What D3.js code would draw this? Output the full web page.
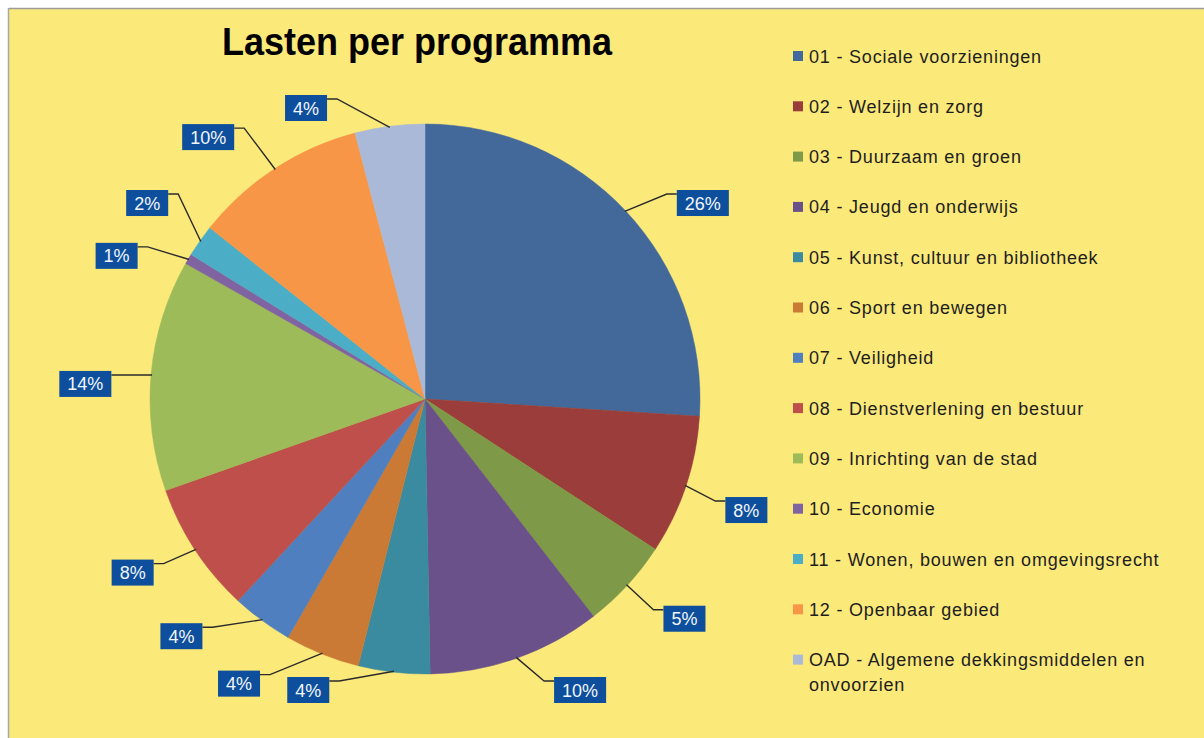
<!DOCTYPE html>
<html lang="nl">
<head>
  <meta charset="UTF-8">
  <title>Lasten per programma</title>
  <script src="https://cdn.jsdelivr.net/npm/d3@7"></script>
  <style>
    body { margin: 0; background: #fff; }
    svg { display: block; font-family: "Liberation Sans", Arial, sans-serif; }
    .legend text { font-size: 18px; fill: #1e1e1e; letter-spacing: 0.8px; }
    .pct text { font-size: 18px; fill: #f2f5fb; }
    .leader { fill: none; stroke: #2b2b2b; stroke-width: 1.4px; }
  </style>
</head>
<body>
<svg id="chart" width="1204" height="738"></svg>
<script>
// programma's (legend order = slice order, clockwise from 12 o'clock)
const programmas = [
  "01 - Sociale voorzieningen",
  "02 - Welzijn en zorg",
  "03 - Duurzaam en groen",
  "04 - Jeugd en onderwijs",
  "05 - Kunst, cultuur en bibliotheek",
  "06 - Sport en bewegen",
  "07 - Veiligheid",
  "08 - Dienstverlening en bestuur",
  "09 - Inrichting van de stad",
  "10 - Economie",
  "11 - Wonen, bouwen en omgevingsrecht",
  "12 - Openbaar gebied",
  "OAD - Algemene dekkingsmiddelen en onvoorzien"
];
// share of lasten, in %
const lasten = [26.0, 8.2, 5.3, 10.2, 4.2, 4.4, 3.6, 7.7, 13.6, 0.6, 1.9, 10.2, 4.1];
const kleuren = ["#43699a", "#9a3d3b", "#7e9a48", "#6a5189", "#3a8ba0", "#cb7a35",
                 "#4f7fbe", "#be4f4b", "#9dbb59", "#8064a2", "#4badc6", "#f79646", "#aab9d7"];
// manual nudge of the data labels (degrees), like the hand-placed labels in the original
const labelNudge = [8.0, 0.7, -2.4, -7.7, 13.6, 11.2, 9.4, 2.6, -2.5, -5.7, 0.1, -6.5, -13.1];

const svg = d3.select("#chart");
const W = 1204, H = 738;

// frame
svg.append("rect").attr("x", 9).attr("y", 9).attr("width", W - 9).attr("height", H - 9).attr("fill", "#fbe97a");
svg.append("line").attr("x1", 9).attr("x2", W).attr("y1", 8.5).attr("y2", 8.5).attr("stroke", "#9c9c9c").attr("stroke-width", 1.5);
svg.append("line").attr("x1", 8.5).attr("x2", 8.5).attr("y1", 8).attr("y2", H).attr("stroke", "#a8a8a8").attr("stroke-width", 1.5);

// title
svg.append("text")
  .attr("x", 222).attr("y", 55)
  .attr("textLength", 390).attr("lengthAdjust", "spacingAndGlyphs")
  .style("font-size", "38px").style("font-weight", "bold").style("fill", "#000")
  .text("Lasten per programma");

// pie
const cx = 425, cy = 399, R = 275;
const data = programmas.map((name, i) => ({ name, value: lasten[i], color: kleuren[i], nudge: labelNudge[i] }));
const total = d3.sum(lasten);

const pie = d3.pie().sort(null).value(d => d.value);
const arc = d3.arc().innerRadius(0).outerRadius(R);
const arcs = pie(data);

const g = svg.append("g").attr("transform", `translate(${cx},${cy})`);
g.selectAll("path.slice")
  .data(arcs)
  .enter().append("path")
  .attr("class", "slice")
  .attr("d", arc)
  .attr("fill", d => d.data.color)
  .attr("stroke", d => d.data.color)
  .attr("stroke-width", 0.5);

// data labels
const fmt = d3.format(".0%");
const labelR = 340, boxH = 26, padX = 8;
const lbl = g.append("g").attr("class", "pct");

arcs.forEach(d => {
  const mid = (d.startAngle + d.endAngle) / 2;
  const a = mid + d.data.nudge * Math.PI / 180;
  let lx = labelR * Math.sin(a);
  let ly = -labelR * Math.cos(a);
  ly = Math.max(108 - cy, Math.min(690 - cy, ly));

  const grp = lbl.append("g");
  const t = grp.append("text")
    .attr("x", lx).attr("y", ly + 6.5)
    .attr("text-anchor", "middle")
    .text(fmt(d.data.value / total));
  const tw = t.node().getComputedTextLength();
  const bw = tw + padX * 2;
  grp.insert("rect", "text")
    .attr("x", lx - bw / 2).attr("y", ly - boxH / 2)
    .attr("width", bw).attr("height", boxH)
    .attr("fill", "#0d4f9d");

  // leader: from arc edge to the near side of the box, ending in a short horizontal piece
  const px = (R - 1) * Math.sin(mid), py = -(R - 1) * Math.cos(mid);
  const side = lx < px ? lx + bw / 2 : lx - bw / 2;
  const dir = lx < px ? 1 : -1;
  const yy = ly - boxH / 2 + 4;
  g.insert("path", ".pct")
    .attr("class", "leader")
    .attr("d", `M${px},${py}L${side + dir * 10},${yy}L${side},${yy}`);
});

// legend
const legX = 793, legY = 56, legStep = 50.3, maxW = 362;
const leg = svg.append("g").attr("class", "legend");
data.forEach((d, i) => {
  const y = legY + i * legStep;
  leg.append("rect").attr("x", legX).attr("y", y - 5).attr("width", 10).attr("height", 10).attr("fill", d.color);
  const t = leg.append("text").attr("x", legX + 16).attr("y", y + 6.5);
  // wrap long names
  const words = d.name.split(" ");
  let line = [], tspan = t.append("tspan").attr("x", legX + 16).attr("dy", 0);
  words.forEach(w => {
    line.push(w);
    tspan.text(line.join(" "));
    if (tspan.node().getComputedTextLength() > maxW && line.length > 1) {
      line.pop();
      tspan.text(line.join(" "));
      line = [w];
      tspan = t.append("tspan").attr("x", legX + 16).attr("dy", 25).text(w);
    }
  });
});
</script>
</body>
</html>
